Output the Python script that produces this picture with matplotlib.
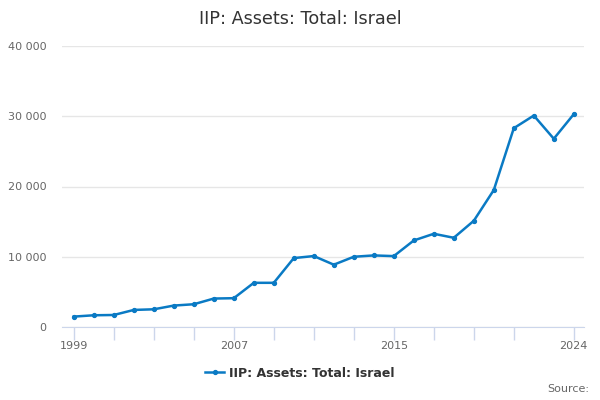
import matplotlib
matplotlib.use("Agg")
import matplotlib.pyplot as plt
from matplotlib.ticker import FuncFormatter

years = list(range(1999, 2025))
assets = [1480, 1670, 1710, 2430, 2520, 3050, 3240, 4050, 4100, 6290, 6290,
          9810, 10100, 8870, 10000, 10190, 10090, 12320, 13270, 12700, 15120,
          19500, 28300, 30100, 26800, 30300]
tick_years = [1999, 2001, 2003, 2005, 2007, 2009, 2011, 2013, 2015, 2017,
              2019, 2021, 2024]
label_years = [1999, 2007, 2015, 2024]
y_ticks = [0, 10000, 20000, 30000, 40000]

title = "IIP: Assets: Total: Israel"
line_col = "#0a7ac4"

plt.rcParams['font.family'] = ['DejaVu Sans']

fig = plt.figure(figsize=(6, 4), dpi=100)
ax = fig.add_axes([0.103, 0.1825, 0.870, 0.7025])

ax.plot(years, assets, color=line_col, lw=1.8, marker='o', ms=2.8,
        label=title)

ax.set_xlim(1998.4, 2024.5)
ax.set_ylim(0, 40000)

ax.set_yticks(y_ticks)
ax.yaxis.set_major_formatter(FuncFormatter(lambda v, p: f"{int(v):,}".replace(",", " ")))
ax.set_xticks(tick_years)
ax.set_xticklabels([str(y) if y in label_years else "" for y in tick_years])

ax.grid(axis='y', color='#e6e6e6', lw=1)
ax.set_axisbelow(True)
for s in ['top', 'right', 'left']:
    ax.spines[s].set_visible(False)
ax.spines['bottom'].set_color('#ccd6eb')
ax.tick_params(axis='y', length=0, labelsize=8, labelcolor='#666666', pad=11)
ax.tick_params(axis='x', length=9, width=1, color='#ccd6eb', labelsize=8,
               labelcolor='#666666', pad=1)

fig.text(0.5, 0.952, title, ha='center', va='center', fontsize=12.7,
         color='#333333')

leg = fig.legend(loc='center', bbox_to_anchor=(0.5, 0.067), frameon=False,
                 handlelength=1.5, handletextpad=0.4,
                 prop={'weight': 'bold', 'size': 9})
for t in leg.get_texts():
    t.set_color('#333333')

fig.text(0.982, 0.027, "Source:", ha='right', va='center', fontsize=8,
         color='#666666')

fig.savefig("out.png", dpi=100)
